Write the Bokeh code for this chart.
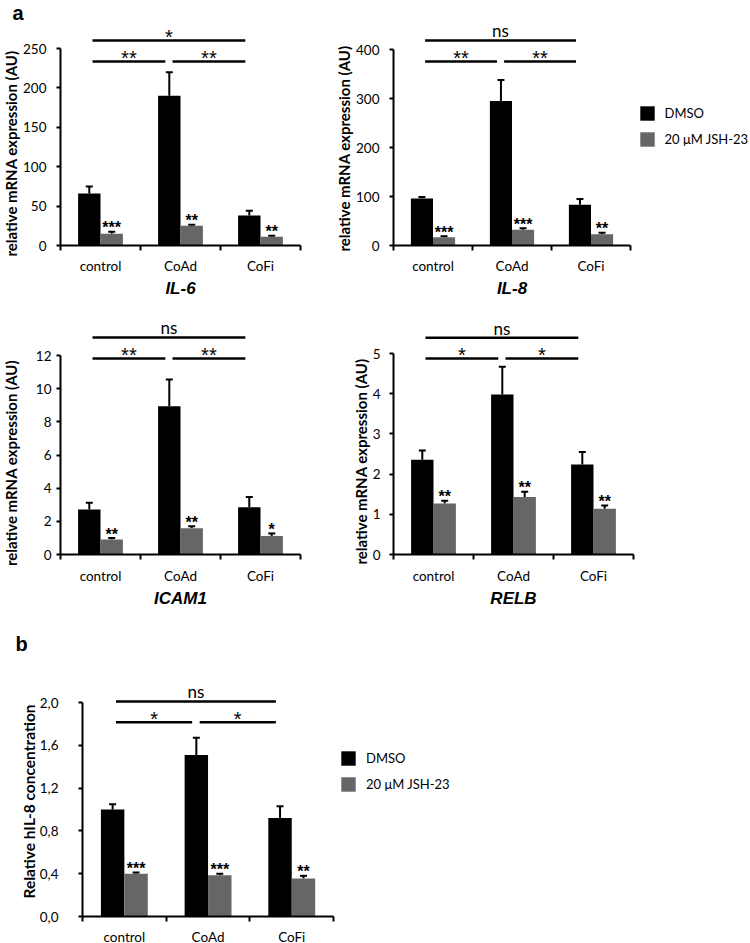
from bokeh.plotting import figure
from bokeh.models import (ColumnDataSource, FixedTicker, Range1d, Label, Legend,
                          LegendItem, Whisker, TeeHead)
from bokeh.layouts import row, column
from bokeh.core.properties import value
from bokeh.embed import file_html
from bokeh.resources import INLINE

# ---------------- data ----------------
categories = ["control", "CoAd", "CoFi"]
series = ["DMSO", "20 μM JSH-23"]
comparisons = [(0, 1), (1, 2), (0, 2)]

il6_dmso = [66, 190, 38]
il6_dmso_sd = [9, 30, 6]
il6_jsh = [15, 25, 11]
il6_jsh_sd = [2.5, 1.3, 1.5]
il6_stars = ["***", "**", "**"]
il6_sig = ["**", "**", "*"]
il6_ticks = [0, 50, 100, 150, 200, 250]

il8_dmso = [96, 295, 83]
il8_dmso_sd = [3, 43, 12]
il8_jsh = [17, 32, 23]
il8_jsh_sd = [2, 3, 3]
il8_stars = ["***", "***", "**"]
il8_sig = ["**", "**", "ns"]
il8_ticks = [0, 100, 200, 300, 400]

icam1_dmso = [2.71, 8.94, 2.85]
icam1_dmso_sd = [0.41, 1.61, 0.61]
icam1_jsh = [0.90, 1.59, 1.12]
icam1_jsh_sd = [0.10, 0.12, 0.15]
icam1_stars = ["**", "**", "*"]
icam1_sig = ["**", "**", "ns"]
icam1_ticks = [0, 2, 4, 6, 8, 10, 12]

relb_dmso = [2.36, 3.98, 2.24]
relb_dmso_sd = [0.23, 0.69, 0.31]
relb_jsh = [1.27, 1.43, 1.14]
relb_jsh_sd = [0.07, 0.13, 0.08]
relb_stars = ["**", "**", "**"]
relb_sig = ["*", "*", "ns"]
relb_ticks = [0, 1, 2, 3, 4, 5]

hil8_dmso = [1.00, 1.51, 0.92]
hil8_dmso_sd = [0.05, 0.16, 0.11]
hil8_jsh = [0.40, 0.385, 0.355]
hil8_jsh_sd = [0.012, 0.015, 0.025]
hil8_stars = ["***", "***", "**"]
hil8_sig = ["*", "*", "ns"]
hil8_ticks = [0, 0.4, 0.8, 1.2, 1.6, 2.0]
hil8_tick_labels = ["0,0", "0,4", "0,8", "1,2", "1,6", "2,0"]

# ---------------- style ----------------
BLACK = "#000000"
GRAY = "#666666"
LATO = "Lato"
ARIAL = "Liberation Sans"
BAR_W = 0.28


def panel(g, dmso, dmso_sd, jsh, jsh_sd, stars, sig, ticks, tick_labels=None,
          gene=None, ylabel="", ylabel_size="15px", letter=None, legend_at=None):
    x0, y0, W, H = g["x0"], g["y0"], g["w"], g["h"]
    ox, oy, cw = g["ox"], g["oy"], g["cw"]
    ymax = ticks[-1]
    u = ymax / g["axis_px"]          # data units per pixel (y)

    def dx(px):                      # page x -> data x
        return (px - ox) / cw

    def dy(py):                      # page y -> data y
        return (oy - py) * u

    p = figure(width=W, height=H,
               x_range=Range1d(dx(x0), dx(x0 + W)),
               y_range=Range1d(dy(y0 + H), dy(y0)),
               output_backend="svg", toolbar_location=None, min_border=0,
               background_fill_color="white", border_fill_color="white")
    p.outline_line_color = None
    p.xgrid.visible = False
    p.ygrid.visible = False

    centers = [i + 0.5 for i in range(len(categories))]
    src_d = ColumnDataSource(dict(
        x=[c - BAR_W / 2 for c in centers], top=dmso,
        upper=[m + s for m, s in zip(dmso, dmso_sd)]))
    src_j = ColumnDataSource(dict(
        x=[c + BAR_W / 2 for c in centers], top=jsh,
        upper=[m + s for m, s in zip(jsh, jsh_sd)],
        star_y=[m + s + 3.9 * u for m, s in zip(jsh, jsh_sd)], stars=stars))
    r_d = p.vbar(x="x", top="top", bottom=0, width=BAR_W, source=src_d,
                 fill_color=BLACK, line_color=None)
    r_j = p.vbar(x="x", top="top", bottom=0, width=BAR_W, source=src_j,
                 fill_color=GRAY, line_color=None)
    for src in (src_d, src_j):
        p.add_layout(Whisker(source=src, base="x", lower="top", upper="upper",
                             dimension="height", line_color=BLACK, line_width=2,
                             lower_head=None,
                             upper_head=TeeHead(size=7, line_color=BLACK, line_width=2)))
    p.text(x="x", y="star_y", text="stars", source=src_j, text_font=value(ARIAL),
           text_font_size="16px", text_font_style="bold", text_align="center",
           text_baseline="middle", text_color=BLACK)

    # significance brackets
    levels = [g["lo"] * ymax, g["lo"] * ymax, g["hi"] * ymax]
    bx0 = [centers[a] - 0.10 for a, b in comparisons]
    bx1 = [centers[b] - 0.19 for a, b in comparisons]
    bxm = [(a + b) / 2 for a, b in zip(bx0, bx1)]
    bsrc = ColumnDataSource(dict(x0=bx0, x1=bx1, y=levels))
    p.segment(x0="x0", y0="y", x1="x1", y1="y", source=bsrc, line_width=2.5,
              line_color=BLACK)
    star_idx = [i for i, t in enumerate(sig) if t != "ns"]
    ns_idx = [i for i, t in enumerate(sig) if t == "ns"]
    for idx, font, size, lift in ((star_idx, ARIAL, "20px", 3.6),
                                  (ns_idx, LATO, "17px", 9.6)):
        if not idx:
            continue
        s = ColumnDataSource(dict(x=[bxm[i] for i in idx],
                                  y=[levels[i] + lift * u for i in idx],
                                  t=[sig[i] for i in idx]))
        p.text(x="x", y="y", text="t", source=s, text_font=value(font),
               text_font_size=size, text_align="center", text_baseline="middle",
               text_color=BLACK)

    # axes, drawn through the data origin
    for ax in (p.xaxis[0], p.yaxis[0]):
        ax.fixed_location = 0
        ax.axis_line_width = 2
        ax.axis_line_color = BLACK
        ax.major_tick_line_width = 2
        ax.major_tick_line_color = BLACK
        ax.major_label_text_color = BLACK
        ax.major_label_text_font = LATO
        ax.major_label_text_font_size = "13.5px"

    xa = p.xaxis[0]
    xa.ticker = FixedTicker(ticks=centers, minor_ticks=[0, 1, 2, 3])
    xa.major_label_overrides = {c: lab for c, lab in zip(centers, categories)}
    xa.bounds = (0, 3)
    xa.major_tick_out = 0
    xa.major_tick_in = 0
    xa.minor_tick_out = 5
    xa.minor_tick_in = 0
    xa.minor_tick_line_width = 2
    xa.minor_tick_line_color = BLACK
    xa.major_label_standoff = g["xstand"]

    ya = p.yaxis[0]
    ya.ticker = FixedTicker(ticks=ticks)
    ya.bounds = (0, ymax)
    ya.major_tick_out = 4
    ya.major_tick_in = 0
    ya.minor_tick_line_color = None
    ya.major_label_standoff = g["ystand"]
    if tick_labels:
        ya.major_label_overrides = dict(zip(ticks, tick_labels))

    # titles
    lx, ly = g["ylab"]
    p.add_layout(Label(x=dx(lx), y=dy(ly), text=ylabel, angle=90, angle_units="deg",
                       text_align="center", text_baseline="middle", text_font=LATO,
                       text_font_style="bold", text_font_size=ylabel_size,
                       text_color=BLACK))
    if gene:
        p.add_layout(Label(x=1.5, y=dy(g["gene_y"]), text=gene, text_align="center",
                           text_baseline="middle", text_font=ARIAL,
                           text_font_style="bold italic", text_font_size="17px",
                           text_color=BLACK))
    if letter:
        tx, ty = g["letter"]
        p.add_layout(Label(x=dx(tx), y=dy(ty), text=letter, text_align="left",
                           text_baseline="middle", text_font=ARIAL,
                           text_font_style="bold", text_font_size="20px",
                           text_color=BLACK))
    if legend_at:
        left, top = legend_at
        gh, sp = 18, 8
        leg_h = 2 * gh + sp
        leg = Legend(items=[LegendItem(label=series[0], renderers=[r_d]),
                            LegendItem(label=series[1], renderers=[r_j])],
                     location=(left - x0, (y0 + H) - (top + leg_h)),
                     glyph_width=gh, glyph_height=gh, label_height=gh, spacing=sp,
                     padding=0, margin=0, border_line_color=None,
                     background_fill_alpha=0, label_standoff=9,
                     label_text_font=LATO, label_text_font_size="13px",
                     label_text_color=BLACK)
        p.add_layout(leg)
    return p


gA = dict(x0=0, y0=0, w=333, h=305, ox=60, oy=245, cw=80, axis_px=197,
          lo=0.934, hi=1.04, xstand=7, ystand=10, ylab=(10, 153), gene_y=288.4,
          letter=(12, 12.5))
gB = dict(x0=333, y0=0, w=417, h=305, ox=393, oy=245, cw=79, axis_px=196,
          lo=0.939, hi=1.046, xstand=7, ystand=10, ylab=(343.5, 148), gene_y=288.4)
gC = dict(x0=0, y0=305, w=333, h=310, ox=60, oy=554, cw=80, axis_px=199,
          lo=0.985, hi=1.091, xstand=8, ystand=5, ylab=(10, 462.5), gene_y=598.1)
gD = dict(x0=333, y0=305, w=417, h=310, ox=393, oy=554, cw=80, axis_px=201,
          lo=0.975, hi=1.078, xstand=8, ystand=9, ylab=(360, 461), gene_y=598.1)
gE = dict(x0=0, y0=615, w=750, h=328, ox=82, oy=916, cw=83.7, axis_px=214,
          lo=0.908, hi=1.005, xstand=7, ystand=20, ylab=(28, 801),
          letter=(15, 643))

ylab_mrna = "relative mRNA expression (AU)"

pA = panel(gA, il6_dmso, il6_dmso_sd, il6_jsh, il6_jsh_sd, il6_stars, il6_sig,
           il6_ticks, gene="IL-6", ylabel=ylab_mrna, letter="a")
pB = panel(gB, il8_dmso, il8_dmso_sd, il8_jsh, il8_jsh_sd, il8_stars, il8_sig,
           il8_ticks, gene="IL-8", ylabel=ylab_mrna, legend_at=(637.5, 104))
pC = panel(gC, icam1_dmso, icam1_dmso_sd, icam1_jsh, icam1_jsh_sd, icam1_stars,
           icam1_sig, icam1_ticks, gene="ICAM1", ylabel=ylab_mrna)
pD = panel(gD, relb_dmso, relb_dmso_sd, relb_jsh, relb_jsh_sd, relb_stars, relb_sig,
           relb_ticks, gene="RELB", ylabel=ylab_mrna)
pE = panel(gE, hil8_dmso, hil8_dmso_sd, hil8_jsh, hil8_jsh_sd, hil8_stars, hil8_sig,
           hil8_ticks, tick_labels=hil8_tick_labels,
           ylabel="Relative hIL-8 concentration", ylabel_size="15.5px", letter="b",
           legend_at=(339, 748.5))

layout = column(row(pA, pB), row(pC, pD), pE)

open("out.html", "w").write(file_html(layout, INLINE))
